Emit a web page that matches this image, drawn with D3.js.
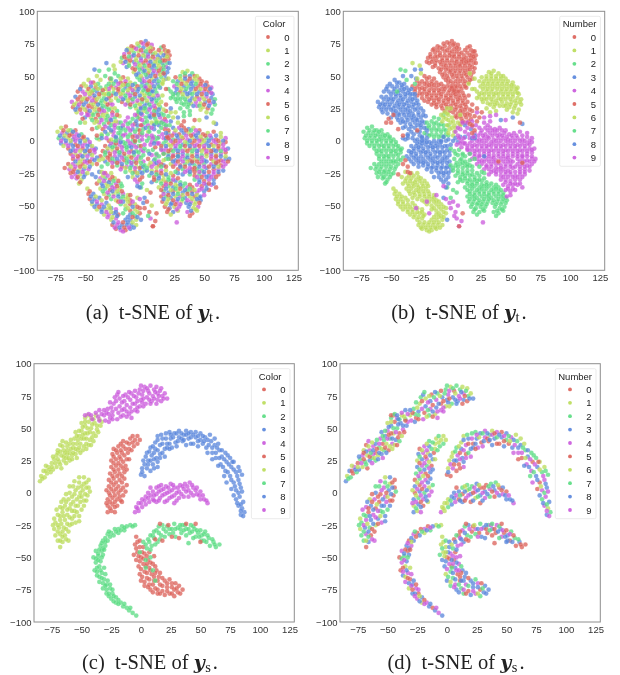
<!DOCTYPE html>
<html><head><meta charset="utf-8">
<script src="https://cdn.jsdelivr.net/npm/d3@7/dist/d3.min.js"></script>
<style>html,body{margin:0;padding:0;background:#fff}svg{display:block;filter:blur(0.3px)}</style>
</head><body><svg id="c" width="620" height="675"></svg>
<script>
const palette = ["#db5f57","#b9db57","#57db80","#5784db","#c957db"];
const legendLabels = ["0","1","2","3","4","5","6","7","8","9"];
const xTicks = [-75,-50,-25,0,25,50,75,100,125];
const yTicks = [-100,-75,-50,-25,0,25,50,75,100];
// top pair: x, y, colour label (a); the array name gives the number label (b)
const tNumber0 = [-3,76,0,1,77,3,3,75,0,6,74,4,-14,71,1,-9,72,0,-5,73,2,-1,72,3,3,71,1,7,71,0,14,72,2,17,70,0,-17,67,4,-13,68,0,-9,68,2,-5,69,1,-1,68,4,3,67,3,7,67,2,11,66,3,14,68,1,18,67,0,21,66,0,-19,64,2,-15,63,0,-11,65,4,-7,64,1,-3,64,3,1,65,2,5,63,1,9,63,4,13,64,3,17,64,1,20,63,0,-18,60,4,-13,60,1,-9,61,3,-5,60,2,-1,60,0,3,60,4,7,59,2,11,60,1,15,60,3,19,60,2,-15,57,3,-10,56,0,-6,57,2,-2,56,4,2,56,1,6,56,3,10,56,2,14,56,0,18,57,4,-9,53,1,-5,52,3,-1,53,2,3,52,0,7,52,3,11,52,4,15,53,2,19,53,3,-6,49,2,-2,48,4,2,49,3,6,48,1,10,48,3,14,49,2,18,48,3,-2,45,3,2,44,2,6,44,4,11,44,3,15,45,1,1,40,3,5,41,0,9,40,2,13,41,3,
-11,73,0,-6,75,1,-1,75,4,2,74,0,5,72,1,12,70,0,16,73,0,19,69,1,-15,70,3,-11,70,1,-7,71,4,-3,70,0,1,69,2,5,69,0,9,68,1,16,66,3,20,69,0,-17,65,0,-13,65,2,-9,66,3,-5,66,0,-1,66,1,3,65,4,7,65,0,11,63,1,15,62,0,19,65,1,-20,61,1,-16,61,3,-12,62,0,-7,62,1,-3,62,4,1,62,0,5,61,3,9,61,1,13,61,2,17,62,0,21,60,3,-13,58,2,-8,59,4,-4,58,1,0,58,2,4,58,0,8,58,3,12,58,1,16,58,2,20,56,3,-8,55,0,-4,55,2,0,54,3,4,54,1,8,54,4,12,54,0,16,55,2,-7,51,3,-3,50,1,1,51,2,5,50,3,9,50,0,13,51,1,17,51,3,-4,47,2,0,46,4,4,46,0,8,46,3,12,46,2,16,47,1,0,42,3,4,42,1,8,42,3,12,42,2,3,38,2,7,38,3];
const tNumber5 = [-22,50,2,-18,49,0,-14,48,1,-28,46,1,-24,46,3,-20,45,0,-16,46,4,-12,45,1,-8,44,2,-32,42,2,-28,42,0,-24,41,4,-20,42,1,-16,41,3,-12,41,0,-8,40,1,-3,42,2,1,41,4,-30,38,1,-26,37,2,-22,38,0,-18,37,1,-14,37,4,-10,37,2,-6,38,3,-2,37,1,2,37,2,6,38,3,10,37,2,-24,33,1,-20,34,4,-16,33,2,-12,33,0,-8,34,3,-4,33,1,0,33,2,4,34,4,8,33,3,12,33,2,15,35,1,-19,30,0,-14,29,2,-10,30,4,-6,29,1,-2,30,2,2,29,3,6,30,4,10,29,2,14,30,1,-12,26,2,-7,25,1,-3,26,4,1,25,2,5,26,3,9,25,0,13,26,2,2,22,2,6,21,4,10,22,3,14,21,2,18,23,0,5,18,3,9,17,2,13,18,4,17,17,0,8,13,2,12,14,1,20,19,2,22,15,3,
-20,48,1,-16,44,0,-26,44,2,-22,44,4,-18,43,1,-14,43,2,-10,43,3,-6,42,0,-30,40,4,-26,40,1,-22,40,0,-18,39,2,-14,39,1,-10,39,4,-5,40,3,-1,39,2,3,39,0,7,35,1,-28,35,0,-24,36,3,-20,36,1,-16,35,2,-12,35,4,-8,36,0,-4,35,3,0,35,1,4,36,2,11,35,4,-22,31,2,-18,32,3,-14,31,1,-10,32,2,-6,31,4,-2,32,0,2,31,1,6,32,3,10,31,2,-16,28,4,-12,28,0,-8,27,2,-4,28,1,0,27,3,4,28,2,8,27,4,12,28,1,-5,23,2,-1,23,1,4,24,4,8,23,2,12,24,3,16,24,1,4,19,3,8,19,2,12,20,3,16,20,2,10,15,1,15,15,4];
const tNumber1 = [32,53,1,36,54,1,40,52,2,26,49,0,30,50,2,34,50,0,38,50,3,42,50,0,46,48,0,24,46,2,28,46,3,32,46,1,36,46,0,40,46,3,44,46,1,48,46,0,52,45,0,25,42,4,29,42,1,33,42,3,37,42,2,41,42,3,45,42,0,49,42,4,53,42,0,56,41,4,22,38,2,26,37,3,30,38,0,34,38,3,38,37,3,42,38,1,46,38,3,50,38,4,54,38,0,57,36,3,24,34,2,28,33,2,32,34,2,36,34,1,40,33,3,44,34,0,48,34,1,52,34,4,56,33,3,59,32,2,27,30,2,31,29,2,35,30,2,39,29,1,43,30,4,47,29,1,51,30,3,55,29,4,59,28,2,30,25,2,36,26,2,44,27,4,49,26,1,53,25,0,57,24,2,38,23,2,52,22,1,56,21,2,
34,52,2,30,48,1,34,48,3,38,48,0,42,48,1,44,50,1,27,44,2,31,44,0,35,44,1,39,44,3,43,44,2,47,44,0,51,43,3,27,40,3,31,40,1,35,40,2,39,40,3,43,40,0,47,40,1,51,40,0,55,40,3,24,36,2,28,36,2,32,36,1,36,36,3,40,36,2,44,36,3,48,36,0,52,36,3,56,37,4,26,32,2,30,32,2,34,32,2,38,31,3,42,32,1,46,32,4,50,32,1,54,31,0,58,30,3,33,28,2,37,28,2,41,27,3,46,27,2,50,28,0,54,27,3,47,24,1,33,22,2];
const tNumber3 = [-47,47,1,-43,45,0,-39,44,2,-53,42,0,-49,42,1,-45,42,3,-41,41,0,-37,41,2,-33,40,1,-56,38,0,-52,38,4,-48,38,1,-44,37,0,-40,38,3,-36,37,2,-32,36,1,-58,34,3,-54,34,0,-50,33,1,-46,34,4,-42,33,0,-38,34,1,-34,33,2,-30,33,0,-61,30,4,-57,29,1,-53,30,0,-49,30,3,-45,29,1,-41,30,0,-37,29,2,-33,30,1,-29,29,4,-60,26,0,-56,26,3,-52,26,1,-48,25,4,-44,26,0,-40,26,1,-36,25,3,-32,26,2,-28,25,1,-57,22,1,-53,21,4,-48,22,0,-44,21,1,-40,22,2,-36,22,4,-32,21,1,-27,22,0,-23,23,2,-50,18,3,-45,18,1,-41,17,0,-37,18,2,-33,18,1,-29,17,4,-25,18,2,-21,19,1,-42,14,1,-38,14,4,-34,13,2,-30,14,0,-26,14,1,-22,14,4,-40,10,2,-35,9,0,-30,10,3,-25,10,4,-36,5,1,-31,5,2,-30,55,2,-25,55,1,-33,50,2,-40,50,1,-29,48,0,
-45,45,4,-41,43,1,-51,44,1,-47,40,0,-43,39,2,-39,40,1,-35,39,0,-54,40,3,-50,36,4,-46,36,1,-42,35,3,-38,36,0,-34,36,1,-30,36,2,-56,32,0,-52,32,1,-48,32,0,-44,31,4,-40,32,1,-36,31,2,-32,32,3,-28,31,1,-59,28,1,-55,28,4,-51,28,3,-47,27,0,-43,28,1,-39,28,3,-35,27,2,-31,28,0,-27,28,4,-58,24,3,-54,24,0,-50,24,1,-46,23,3,-42,24,1,-38,24,0,-34,23,4,-30,24,2,-25,25,1,-47,20,4,-43,20,2,-39,20,0,-35,20,1,-31,19,2,-27,20,4,-23,20,0,-44,16,2,-40,15,1,-36,16,4,-32,16,2,-28,16,3,-24,15,1,-38,11,1,-33,11,4,-28,12,2,-33,7,3,-28,7,1];
const tNumber8 = [-26,4,4,-20,5,2,-30,0,0,-26,-1,2,-22,0,4,-18,-1,2,-14,0,4,-10,0,2,-33,-4,0,-29,-4,3,-25,-4,2,-21,-3,4,-17,-4,2,-13,-4,3,-9,-3,4,-5,-4,2,-35,-8,0,-31,-8,4,-27,-7,1,-23,-8,2,-19,-8,4,-15,-7,2,-11,-8,0,-7,-8,2,-3,-7,4,-37,-12,0,-33,-11,2,-29,-12,0,-25,-12,4,-21,-11,3,-17,-12,2,-13,-12,1,-9,-11,2,-5,-12,4,-1,-11,2,-33,-16,3,-29,-15,0,-25,-16,2,-21,-16,4,-17,-15,0,-13,-16,3,-9,-16,2,-5,-15,1,-1,-16,4,-27,-20,0,-23,-19,2,-19,-20,0,-15,-20,4,-11,-19,3,-7,-20,1,-3,-20,2,-16,-24,2,-12,-23,1,-8,-24,0,-4,-24,3,0,-23,2,-10,-28,1,-6,-27,3,-2,-28,0,-6,-32,4,-2,-33,2,-14,-28,3,
-24,2,2,-28,-2,4,-24,-2,0,-20,-1,3,-16,-2,2,-12,-2,4,-8,-1,2,-31,-6,1,-27,-5,2,-23,-6,0,-19,-5,4,-15,-5,2,-11,-5,3,-7,-5,4,-3,-4,0,-33,-9,2,-29,-10,0,-25,-9,4,-21,-9,2,-17,-10,0,-13,-9,4,-9,-9,3,-5,-9,2,-1,-8,4,-35,-14,1,-31,-13,0,-27,-14,2,-23,-14,3,-19,-13,4,-15,-14,2,-11,-13,0,-7,-14,4,-3,-13,2,-31,-18,2,-27,-17,4,-23,-17,0,-19,-18,3,-15,-17,2,-11,-17,4,-7,-17,0,-3,-17,2,-20,-22,4,-16,-21,1,-12,-21,2,-8,-21,4,-4,-21,0,-1,-20,3,-10,-25,2,-6,-25,1,-2,-25,3,-8,-30,4,-4,-30,0];
const tNumber7 = [-70,10,1,-66,11,0,-62,8,2,-58,8,0,-73,7,1,-69,6,4,-65,6,3,-61,5,0,-57,5,4,-53,5,2,-72,2,2,-68,2,3,-64,2,1,-60,1,3,-56,2,4,-52,2,0,-48,1,3,-70,-2,3,-66,-2,4,-62,-2,3,-58,-3,0,-54,-2,3,-50,-2,4,-46,-3,3,-64,-6,0,-60,-7,3,-56,-6,4,-52,-6,0,-48,-7,3,-44,-6,4,-41,-6,3,-62,-10,0,-58,-10,1,-54,-11,4,-50,-10,1,-46,-10,3,-42,-9,4,-60,-14,0,-56,-14,4,-52,-14,1,-48,-15,3,-44,-14,4,-40,-13,3,-64,-18,0,-60,-18,4,-56,-18,1,-52,-18,0,-48,-17,4,-44,-18,1,-67,-21,0,-63,-22,4,-59,-22,0,-55,-23,1,-51,-22,3,-47,-22,4,-62,-25,0,-58,-26,4,-54,-26,1,-50,-26,3,-57,-29,4,-53,-30,1,-55,-33,1,-54,-32,0,-61,-28,4,
-68,8,0,-64,8,1,-60,7,3,-71,4,3,-67,4,1,-63,4,0,-59,3,4,-55,4,3,-51,3,0,-70,0,4,-66,0,3,-62,0,1,-58,0,4,-54,0,3,-50,0,1,-46,-1,4,-68,-4,1,-64,-4,4,-60,-4,3,-56,-4,0,-52,-4,4,-48,-4,3,-44,-4,1,-62,-8,3,-58,-8,4,-54,-8,1,-50,-8,3,-46,-8,0,-42,-7,4,-60,-12,4,-56,-12,0,-52,-12,3,-48,-12,4,-44,-11,1,-58,-16,3,-54,-16,1,-50,-16,4,-46,-16,0,-42,-15,3,-62,-20,1,-58,-20,4,-54,-20,0,-50,-20,1,-46,-20,3,-60,-24,0,-56,-24,3,-52,-24,4,-48,-25,1,-56,-28,0,-51,-28,3];
const tNumber2 = [3,-14,0,8,-15,3,0,-19,2,4,-19,1,8,-18,4,12,-19,0,16,-19,3,2,-23,3,6,-23,1,10,-24,0,14,-23,4,18,-23,1,4,-27,2,8,-28,0,12,-27,3,16,-27,1,20,-28,2,24,-27,0,6,-32,3,10,-31,2,14,-31,1,18,-32,0,22,-31,2,26,-31,3,30,-32,2,12,-36,1,16,-35,0,20,-35,2,24,-36,3,28,-35,1,32,-35,2,36,-36,4,40,-36,0,16,-39,2,20,-40,3,24,-39,0,28,-39,1,32,-40,3,36,-39,2,40,-39,0,44,-40,4,14,-43,0,18,-43,2,22,-44,3,26,-43,1,30,-43,4,34,-44,3,38,-43,1,42,-43,0,46,-44,3,15,-47,0,19,-47,1,23,-48,3,27,-47,4,31,-47,1,35,-48,3,39,-47,4,43,-47,1,47,-46,3,17,-51,0,21,-52,3,25,-51,1,29,-51,4,37,-51,3,41,-52,1,45,-51,4,19,-55,0,24,-55,3,28,-54,1,36,-55,4,40,-56,0,44,-54,1,22,-57,1,38,-58,0,-3,-36,2,2,-38,1,0,-44,3,5,-40,0,
5,-17,1,10,-17,3,14,-18,0,2,-21,2,6,-20,4,10,-21,1,14,-20,2,18,-20,0,6,-25,3,10,-26,2,14,-25,0,18,-26,3,22,-25,1,8,-30,0,12,-29,3,16,-30,1,20,-30,2,24,-30,4,28,-29,0,14,-33,2,18,-34,4,22,-33,0,26,-34,1,30,-34,3,34,-33,2,38,-34,0,14,-38,0,18,-37,3,22,-38,1,26,-37,2,30,-37,0,34,-38,3,38,-37,2,42,-38,1,16,-41,4,20,-42,0,24,-41,3,28,-41,2,32,-42,1,36,-41,0,40,-41,3,44,-42,1,16,-45,3,20,-45,1,24,-46,0,28,-45,3,32,-45,2,36,-46,4,40,-45,1,44,-45,3,18,-49,1,22,-49,3,26,-49,0,30,-49,4,38,-49,3,42,-49,1,46,-48,0,20,-53,0,27,-53,4,39,-54,3,43,-53,1];
const tNumber4 = [28,14,1,33,15,0,24,10,3,29,10,4,33,10,0,37,9,3,41,10,1,46,8,0,20,6,2,25,6,4,29,5,0,33,6,3,37,6,1,41,5,4,45,6,3,49,5,0,53,6,1,58,7,0,64,6,1,16,2,4,20,2,0,24,1,2,28,2,3,32,2,0,36,1,4,40,2,1,44,2,3,48,1,0,52,2,2,56,2,3,60,1,0,64,3,1,68,2,4,12,-2,4,16,-2,2,20,-3,1,24,-2,0,28,-2,4,32,-3,3,36,-2,2,40,-2,0,44,-3,4,48,-2,1,52,-2,3,56,-3,0,60,-2,4,64,-2,1,68,-1,0,14,-6,2,18,-6,4,22,-7,0,26,-6,3,30,-6,2,34,-7,1,38,-6,0,42,-6,2,46,-7,4,50,-6,0,54,-6,1,58,-7,3,62,-6,0,66,-6,4,70,-6,3,16,-10,0,20,-10,2,24,-11,4,28,-10,0,32,-10,3,36,-11,2,40,-10,1,44,-10,4,48,-11,2,52,-10,0,56,-10,3,60,-11,1,64,-10,4,68,-9,0,18,-14,2,22,-14,0,26,-15,3,30,-14,4,34,-14,2,38,-15,0,42,-14,1,46,-14,2,50,-15,3,56,-14,0,60,-14,4,64,-15,0,68,-14,3,71,-14,3,22,-18,1,26,-18,4,30,-19,0,34,-18,2,38,-18,3,42,-19,2,46,-18,0,50,-18,2,56,-18,4,60,-18,3,64,-19,0,68,-18,4,28,-22,0,32,-22,2,36,-23,4,40,-22,0,44,-22,2,48,-23,2,52,-21,3,58,-22,0,62,-22,4,66,-23,3,32,-26,3,38,-26,2,42,-27,0,46,-26,2,50,-26,4,54,-27,3,58,-26,4,62,-26,0,42,-30,2,46,-30,3,50,-31,0,54,-30,4,58,-30,3,44,-34,4,48,-35,0,52,-34,3,56,-34,4,60,-36,0,46,-38,4,50,-39,3,54,-38,0,47,-43,3,50,-42,4,0,-52,0,4,-55,0,5,-60,4,9,-62,0,7,-66,0,3,-58,2,27,-63,4,
31,12,0,26,8,1,31,8,3,35,8,0,39,8,2,43,8,4,23,4,0,27,4,3,31,3,1,35,4,4,39,4,0,43,4,3,47,3,1,51,4,0,55,4,4,60,4,3,18,0,2,22,0,4,26,0,0,30,0,4,34,-1,1,38,0,3,42,0,0,46,0,4,50,0,1,54,0,3,58,0,4,62,0,0,66,0,3,14,-4,0,18,-4,3,22,-4,1,26,-4,4,30,-4,2,34,-4,0,38,-4,3,42,-4,4,46,-4,0,50,-4,4,54,-4,3,58,-4,1,62,-4,0,66,-3,4,16,-8,4,20,-8,0,24,-8,2,28,-8,3,32,-8,4,36,-8,0,40,-8,2,44,-8,3,48,-8,1,52,-8,4,56,-8,0,60,-8,3,64,-8,2,68,-7,4,20,-12,3,24,-12,0,28,-12,2,32,-12,4,36,-13,3,40,-12,0,44,-12,3,48,-13,4,52,-12,1,56,-12,4,60,-12,0,64,-12,3,68,-12,1,24,-16,3,28,-16,0,32,-16,4,36,-16,1,40,-17,3,44,-16,0,48,-16,4,52,-16,3,58,-16,1,62,-16,0,66,-16,4,70,-16,0,30,-20,3,34,-20,0,38,-21,4,42,-21,0,46,-20,3,50,-20,4,54,-20,0,58,-20,3,62,-20,1,66,-20,4,34,-24,4,38,-24,3,42,-24,0,46,-24,4,50,-24,3,54,-24,0,58,-24,4,62,-24,3,44,-28,4,48,-28,0,52,-28,3,56,-28,4,60,-28,0,46,-32,3,50,-33,4,54,-33,0,58,-33,3,48,-37,4,52,-37,3];
const tNumber6 = [-38,-24,3,-33,-25,0,-28,-25,1,-41,-28,3,-37,-29,4,-33,-29,2,-29,-30,0,-25,-29,1,-40,-33,0,-36,-33,3,-32,-33,1,-28,-34,2,-24,-33,4,-20,-33,2,-48,-37,1,-37,-37,1,-33,-37,2,-29,-38,0,-25,-37,4,-21,-37,1,-47,-41,0,-43,-41,3,-34,-41,1,-30,-42,2,-26,-41,1,-22,-41,2,-18,-41,4,-14,-42,1,-46,-45,0,-42,-45,3,-38,-44,3,-28,-45,2,-24,-46,1,-20,-45,2,-16,-45,1,-12,-46,0,-44,-49,1,-40,-49,3,-36,-49,4,-32,-48,3,-20,-49,2,-16,-50,1,-12,-49,0,-8,-49,1,-40,-53,1,-36,-53,3,-32,-53,1,-28,-52,3,-24,-53,4,-16,-53,2,-12,-54,0,-8,-53,1,-4,-52,0,-34,-57,1,-30,-57,4,-26,-56,3,-22,-57,0,-12,-57,3,-8,-58,2,-4,-56,0,-28,-61,1,-24,-60,4,-16,-61,3,-12,-61,3,-7,-61,1,-27,-65,0,-23,-65,4,-19,-65,3,-15,-65,3,-11,-65,3,-7,-65,1,-24,-68,0,-20,-69,4,-16,-69,0,-12,-68,3,-18,-70,4,
-35,-27,1,-31,-27,4,-27,-28,0,-38,-31,1,-34,-31,4,-30,-32,3,-26,-31,2,-22,-31,0,-35,-35,3,-31,-35,1,-27,-36,4,-23,-35,0,-19,-35,2,-46,-39,0,-35,-39,2,-31,-40,4,-27,-39,3,-23,-39,1,-19,-39,0,-45,-43,3,-41,-43,1,-32,-44,0,-26,-43,4,-22,-43,3,-18,-43,2,-14,-44,1,-44,-47,3,-40,-47,4,-36,-46,1,-22,-47,0,-18,-47,3,-14,-47,1,-10,-47,4,-42,-51,3,-38,-51,0,-34,-51,3,-30,-50,1,-14,-52,1,-10,-51,3,-6,-51,0,-36,-55,3,-32,-55,4,-28,-55,1,-24,-55,3,-10,-56,2,-6,-55,1,-31,-59,4,-27,-59,1,-23,-58,3,-14,-59,3,-10,-59,0,-6,-59,3,-26,-63,3,-22,-63,4,-18,-63,0,-14,-63,3,-10,-63,1,-25,-67,4,-21,-67,3,-17,-67,0,-13,-67,4,-9,-67,3];
const tMixGreen = [-20,14,2,-16,15,4,-12,14,2,-8,13,0,-18,10,2,-14,10,4,-10,9,3,-6,9,2,-16,5,4,-12,5,2,-8,4,4,-4,5,0,-22,6,2,-2,12,4,3,-8,2,6,-11,4,9,-14,2,-42,55,3,-38,54,2,-37,47,1,-30,44,2,-45,38,1,-18,12,4,-14,13,2,-10,12,4,-6,12,3,-16,8,2,-12,8,4,-8,7,2,-4,8,0,-20,10,3,-18,4,4,-14,3,2,-10,3,0,-6,3,2,-2,4,4,0,-6,2,4,-10,3,7,-7,2,10,-11,4,12,-12,2,-14,18,4,-10,17,2,-6,20,0,16,-10,2,12,-16,4,20,-14,2,24,-20,0,28,-25,3,16,-15,1,10,-10,2,26,-24,2];
const tMixYellow = [-5,22,2,-2,20,4,1,18,2,-4,17,0,0,14,2,3,12,4,-1,9,2,3,7,1,-3,25,3,0,25,2,-32,60,3,-25,52,2,-26,58,1,15,44,1,20,40,2,16,52,0,-3,21,3,-6,18,2,-2,16,4,2,15,2,-3,12,0,1,10,3,-2,6,2,2,4,4,6,14,1,-7,15,3,8,20,0,-8,20,4,4,10,2,8,12,3,-28,48,2,20,48,1,18,40,0,22,33,2];
const tMixBlue = [-25,12,4,-20,8,2,-4,0,2,0,-3,4,4,2,2,12,12,3,17,9,0,-4,-36,3,-6,-44,1,-3,-61,3,28,-12,3,42,16,0,60,13,3,52,18,3,-22,10,2,-26,7,4,-20,2,2,-2,1,4,2,0,2,6,-1,4,8,3,2,12,3,4,-8,0,-8,-38,1,-1,-40,2,-18,18,2,-14,20,4,-10,20,2,-24,-24,0,-18,-28,1,-20,-24,3,-14,-32,2,-10,-36,4,-16,-36,2,6,-6,3];
const tMixMagenta = [6,4,4,9,0,2,5,-3,4,8,9,3,12,7,2,14,-7,4,9,-5,0,-20,-47,4,-29,-52,1,-12,-42,0,-18,-56,2,-6,-35,3,38,20,2,46,16,1,4,7,2,7,2,4,11,2,2,11,-2,4,8,-2,3,14,10,2,18,11,4,21,12,2,15,5,4,19,3,0,14,14,2,18,15,4,22,22,1,28,18,3,33,19,2,6,10,4,10,14,2,-1,-48,3,-4,-45,4,2,-47,0,6,-50,1];
const tMixRed = [-52,17,0,-50,14,1,-48,20,4,-28,8,3,-36,-24,1,20,8,0,24,18,1,40,-16,0,60,-17,0,58,14,1,10,-56,0,7,-66,0,-54,14,2,-44,9,0,18,6,3,16,13,2,18,28,0,22,25,3,26,22,1,18,12,2,-40,4,0,-44,-26,3,-38,-15,1,-36,-20,2,-34,-25,4,-40,-18,0];
// bottom pair: x, y, number label (d); the array name gives the colour label (c)
const sYellowBand = [-85,9,3,-84,13,1,-82,17,3,-81,12,2,-79,15,0,-78,20,4,-76,16,2,-75,23,0,-74,18,3,-73,26,2,-71,20,1,-71,29,4,-69,24,2,-67,19,0,-67,29,1,-68,37,0,-65,33,4,-65,25,3,-63,27,2,-62,36,4,-60,31,0,-60,25,2,-60,38,3,-58,29,1,-57,35,2,-56,42,4,-55,30,3,-54,38,0,-53,33,2,-52,44,3,-51,38,1,-50,48,4,-49,33,0,-48,42,2,-47,52,3,-46,38,4,-45,46,1,-44,55,0,-43,41,3,-42,50,2,-42,58,4,-40,46,0,-39,54,3,-38,60,1,-37,49,4,-35,57,2,-45,60,0,-47,58,2,-34,52,3,-50,54,1,-40,40,2,-55,47,3,-62,30,4,-70,33,1,
-83,11,2,-80,17,0,-77,18,3,-75,20,1,-72,23,4,-70,26,0,-68,22,2,-68,32,3,-66,36,1,-65,28,0,-64,31,2,-63,23,4,-62,33,3,-61,27,1,-59,34,0,-59,41,2,-57,31,3,-57,38,4,-55,34,1,-53,41,2,-52,35,0,-51,31,3,-50,42,4,-48,36,1,-47,46,0,-46,42,3,-45,50,2,-44,37,1,-43,47,4,-41,43,0,-41,53,3,-40,57,2,-38,44,1,-37,52,3,-36,47,0,-33,55,4,-47,55,1,-49,51,3,-54,44,2,-80,21,1,-74,28,3,-70,31,0,-66,40,4,-63,39,1,-52,48,2,-49,45,0,-58,26,3,-54,27,4,-46,34,1,-42,37,0];
const sMagentaTop = [-47,60,0,-44,61,2,-41,57,3,-38,62,4,-35,56,0,-35,64,3,-31,60,1,-28,65,2,-30,56,4,-26,58,0,-24,63,3,-23,69,1,-22,74,2,-20,57,4,-19,62,0,-18,67,3,-18,73,1,-15,60,2,-14,65,4,-14,71,3,-13,76,0,-10,61,1,-9,66,3,-9,72,4,-8,77,2,-5,64,4,-5,69,0,-4,74,3,-1,80,2,-1,67,1,0,72,3,1,76,4,3,82,1,4,69,2,5,74,3,6,79,0,8,83,2,9,71,3,10,75,4,11,80,2,13,82,1,14,72,3,14,77,4,17,71,0,18,75,2,17,81,1,20,77,1,22,73,3,-8,58,4,-12,59,0,-27,61,2,
-42,60,3,-36,59,1,-33,61,4,-29,62,0,-27,55,3,-24,60,2,-21,65,4,-21,71,0,-20,76,3,-17,59,1,-16,64,2,-16,70,4,-15,75,1,-12,63,3,-12,68,0,-11,74,2,-8,63,4,-7,69,3,-6,75,1,-3,71,0,-3,66,4,-2,77,2,1,70,3,2,79,4,2,73,0,5,81,2,7,72,3,7,77,1,11,73,4,12,78,3,15,75,0,16,79,2,19,73,3,-24,57,0,-31,64,3,-25,66,1,-26,70,2,-10,78,3,-5,79,0,0,83,2,-3,63,4,2,67,1,8,69,3,13,69,0,-19,78,2];
const sYellowLeft = [-68,-42,0,-70,-37,2,-66,-38,3,-72,-33,2,-68,-32,4,-64,-33,0,-61,-37,4,-73,-28,1,-69,-27,3,-65,-27,2,-61,-30,0,-72,-23,2,-68,-21,4,-64,-21,3,-60,-25,1,-70,-17,2,-66,-15,0,-62,-17,4,-58,-20,3,-55,-23,4,-68,-11,4,-64,-10,3,-60,-12,0,-56,-14,2,-52,-18,3,-65,-5,1,-61,-5,4,-57,-7,0,-53,-10,3,-50,-13,2,-60,0,3,-56,-1,0,-52,-3,4,-48,-6,0,-57,5,2,-53,4,4,-49,2,3,-45,-2,0,-52,8,2,-48,7,1,-44,4,0,-48,12,3,-44,10,0,
-68,-37,1,-66,-34,2,-63,-36,4,-70,-30,2,-66,-30,3,-63,-28,0,-70,-25,4,-67,-24,1,-62,-24,3,-58,-24,0,-68,-18,2,-65,-18,3,-60,-19,4,-56,-18,1,-66,-12,0,-62,-13,3,-58,-14,4,-54,-15,2,-63,-7,0,-59,-9,1,-55,-10,3,-51,-7,4,-58,-3,0,-54,-5,3,-50,-3,1,-55,2,4,-51,0,0,-47,-1,3,-50,5,2,-46,4,3,-46,8,0,-74,-25,2,-73,-20,1,-71,-13,4,-67,-7,3,-63,-1,0,-60,5,2,-56,9,4,-52,12,1,-48,-10,3,-46,-6,0,-43,1,2,-52,-22,3];
const sRedMid = [-28,-15,3,-25,-14,1,-22,-15,4,-28,-10,1,-24,-9,3,-20,-10,0,-28,-5,3,-24,-4,2,-20,-5,4,-16,-7,1,-27,0,0,-23,1,3,-19,0,2,-15,-2,4,-27,5,3,-23,6,0,-19,5,4,-15,4,1,-27,10,0,-23,11,2,-18,10,4,-14,11,3,-26,15,2,-22,16,4,-18,15,0,-14,16,3,-25,20,3,-21,21,4,-17,21,2,-13,21,0,-25,25,1,-21,26,3,-17,26,4,-12,26,3,-24,30,3,-20,31,4,-16,31,1,-11,31,0,-23,34,0,-19,36,4,-15,36,3,-10,34,1,-15,40,2,-10,38,1,-6,36,2,-9,42,1,-5,41,1,-3,44,1,-3,38,2,-1,41,1,
-26,-12,2,-22,-11,3,-26,-7,4,-22,-7,0,-26,-2,1,-22,-2,4,-18,-3,3,-25,3,4,-21,3,0,-17,2,3,-25,8,1,-21,8,4,-16,8,3,-24,13,4,-20,13,1,-16,13,0,-23,18,2,-19,18,3,-15,19,4,-23,23,0,-19,23,4,-15,24,1,-23,28,2,-18,28,0,-14,29,3,-21,33,1,-17,33,4,-13,34,2,-17,38,1,-12,39,2,-7,39,1,-7,44,2,-12,6,2,-13,1,4,-17,-6,3,-29,2,1,-29,-8,4,-12,18,3,-10,26,1,-8,33,2];
const sBlueArc = [0,14,0,3,13,0,1,19,1,5,19,4,8,17,0,2,25,1,6,25,3,10,22,0,14,20,4,5,31,1,9,29,4,13,27,3,8,35,2,12,34,3,16,30,0,20,28,4,12,39,1,16,37,4,20,34,3,14,44,1,18,42,3,22,38,0,26,35,4,21,46,2,25,42,3,29,39,0,24,47,2,28,46,3,32,43,4,35,40,0,32,48,4,36,45,2,40,42,3,44,38,0,38,48,1,42,47,4,46,43,3,50,41,2,46,47,0,50,46,3,54,43,4,52,38,0,55,35,3,59,40,2,58,45,1,62,37,3,60,31,4,65,38,1,66,33,2,63,27,0,68,28,3,71,31,2,67,22,4,72,24,0,75,27,2,71,17,4,76,20,3,78,24,1,75,13,3,80,16,2,82,20,1,78,8,0,82,10,4,85,14,2,80,2,4,84,4,3,80,-5,2,83,-3,4,86,-7,3,82,-10,4,85,-12,1,87,-15,2,84,-17,3,86,-18,4,
1,16,3,3,22,4,6,22,0,4,28,1,8,25,3,11,26,4,7,32,2,11,31,0,14,24,3,10,36,1,14,33,4,18,31,2,14,41,3,18,38,0,22,35,3,17,45,2,21,42,4,24,38,3,27,43,1,31,40,3,25,45,4,30,46,2,34,46,3,34,42,0,38,45,4,42,43,2,36,41,3,40,46,0,44,45,3,48,44,4,48,40,0,52,44,2,56,41,3,53,40,1,57,37,4,62,42,1,60,35,3,64,35,2,63,31,4,68,33,3,66,27,1,70,26,4,73,29,2,69,20,3,74,22,4,77,24,0,73,16,2,78,18,1,76,10,3,81,13,4,83,17,2,79,5,1,83,7,3,82,0,2,85,1,4,81,-8,3,84,-9,2,84,-14,4,24,34,0,30,36,4,38,37,3,42,38,0,48,36,3,56,31,4,60,26,0,65,21,3,70,13,2,72,8,4,76,3,0,78,-2,3,16,27,4,11,19,0];
const sMagentaLow = [-5,-15,4,-4,-11,1,-2,-14,1,-2,-8,1,1,-11,2,1,-5,1,4,-9,3,4,-3,3,7,-7,4,6,0,3,10,-5,0,10,1,3,13,-7,3,13,-1,0,13,4,2,16,-4,4,17,2,1,17,6,2,20,-7,0,20,-1,3,21,5,2,24,-4,1,24,1,4,25,7,3,28,-8,0,28,-2,3,28,4,0,32,-4,4,32,1,3,33,6,0,36,-3,2,36,3,4,37,7,2,40,-3,0,40,2,3,41,8,2,44,-2,3,44,4,0,47,-1,4,47,4,3,50,-5,3,50,1,0,53,-5,3,56,-8,4,
-3,-12,1,0,-8,1,3,-6,2,6,-4,3,8,-2,4,8,4,0,11,-2,2,11,-6,3,15,1,3,15,-6,0,15,5,1,18,-2,4,19,3,2,22,-6,3,22,0,0,23,4,4,26,-3,2,26,2,3,27,6,1,30,-6,3,30,0,4,31,4,0,34,-1,3,35,5,2,38,1,0,39,5,3,42,0,4,43,6,1,46,2,0,49,-2,3,52,-2,4,55,-6,3];
const sGreenArc = [-5,-25,1,-9,-25,1,-12,-26,3,-16,-26,0,-14,-29,2,-19,-28,4,-22,-28,0,-19,-31,1,-25,-31,0,-23,-33,3,-28,-32,4,-28,-37,3,-32,-37,0,-30,-41,4,-34,-41,3,-33,-45,0,-38,-45,4,-36,-49,2,-40,-50,0,-34,-53,3,-38,-54,4,-35,-57,1,-39,-60,0,-33,-62,4,-37,-64,3,-31,-67,0,-35,-69,4,-29,-71,3,-32,-74,1,-26,-74,4,-29,-78,3,-24,-78,0,-25,-82,4,-21,-81,3,-21,-85,1,-17,-85,4,-15,-88,3,-12,-89,0,-10,-91,3,-7,-93,4,-4,-95,3,
-7,-26,2,-14,-27,4,-17,-29,3,-21,-30,2,-26,-34,0,-30,-35,3,-30,-38,1,-33,-39,4,-32,-43,3,-35,-44,0,-36,-47,3,-38,-51,2,-36,-52,4,-37,-58,0,-34,-60,3,-37,-61,4,-35,-65,1,-33,-66,0,-32,-70,3,-30,-72,4,-29,-75,0,-27,-78,3,-27,-80,4,-23,-80,1,-23,-84,3,-19,-83,0,-19,-86,4,-14,-86,3,-9,-89,4,-27,-30,2,-31,-44,0,-32,-48,3,-33,-50,2,-31,-58,1,-30,-63,4,-28,-68,3,-26,-71,0,-24,-75,4];
const sRedArc = [-5,-40,1,-3,-46,1,-6,-48,2,-1,-42,1,-4,-52,3,0,-50,0,3,-47,4,-2,-57,3,2,-55,4,6,-52,0,-1,-63,1,3,-61,2,7,-58,3,10,-55,4,0,-68,3,5,-66,2,9,-63,0,13,-60,3,3,-72,2,7,-71,4,11,-68,0,15,-65,3,8,-75,3,12,-74,2,16,-71,4,20,-68,3,14,-78,2,18,-76,0,22,-73,3,26,-70,4,20,-79,3,24,-78,4,28,-75,0,32,-72,3,28,-80,2,31,-77,3,35,-75,3,2,-42,3,7,-46,0,11,-49,4,
-4,-43,2,-2,-49,1,-1,-53,3,2,-51,0,5,-49,4,0,-59,4,4,-57,0,8,-54,3,1,-65,2,5,-62,3,8,-60,4,12,-57,2,3,-69,1,7,-67,3,11,-65,0,6,-73,4,10,-71,2,14,-68,3,18,-66,0,10,-77,3,14,-75,4,18,-72,2,22,-70,3,16,-78,0,22,-76,4,26,-73,3,26,-78,1,30,-74,2,33,-78,3,-3,-38,1,-1,-37,2,1,-46,3,5,-55,4,12,-62,0,16,-62,3,24,-67,2,29,-70,0];
const sGreenLow = [2,-38,3,6,-36,0,9,-41,4,5,-43,2,10,-33,0,14,-38,3,13,-29,4,17,-33,2,18,-25,3,21,-30,0,24,-28,4,28,-24,2,27,-31,0,31,-27,3,35,-25,2,34,-31,0,38,-28,3,42,-25,4,41,-31,0,45,-28,3,48,-31,0,46,-34,4,51,-33,3,54,-30,2,53,-37,0,57,-35,2,61,-38,3,58,-41,0,63,-42,0,66,-40,0,-1,-46,1,4,-52,3,8,-50,4,4,-58,2,10,-60,4,12,-68,3,40,-39,0,
4,-40,1,7,-38,3,8,-33,2,11,-35,4,11,-30,0,15,-31,3,15,-26,2,19,-28,4,22,-26,0,26,-28,3,24,-32,2,29,-28,4,33,-28,0,33,-25,3,37,-25,4,36,-29,2,40,-28,0,43,-30,3,47,-29,4,44,-26,2,50,-29,0,49,-34,3,53,-32,4,56,-33,0,55,-38,3,60,-36,2,62,-40,0,8,-44,3,12,-40,4,16,-36,0,20,-34,2,29,-34,3,38,-33,0,44,-35,2,51,-37,3];
const sRedLow = [16,-24,0,23,-25,1,12,-36,3,18,-37,0,26,-34,4,32,-35,3,38,-24,2,46,-24,0,50,-38,3,-4,-34,1];

const rows = [
 {x:37.3,X:298.3,y:11.3,Y:270.3,title:"Color",capX:153,capY:319,cap:"(a)",sub:"t",top:true,byColor:true},
 {x:343.3,X:604.7,y:11.3,Y:270.3,title:"Number",capX:459,capY:319,cap:"(b)",sub:"t",top:true,byColor:false},
 {x:34,X:294.3,y:363.7,Y:622,title:"Color",capX:150,capY:669,cap:"(c)",sub:"s",top:false,byColor:true},
 {x:340,X:600.3,y:363.7,Y:622,title:"Number",capX:456,capY:669,cap:"(d)",sub:"s",top:false,byColor:false}
];

function triples(arr, fixed){
  const out=[];
  for(let i=0;i<arr.length;i+=3) out.push({x:arr[i],y:arr[i+1],own:arr[i+2],fixed});
  return out;
}
const topPoints = [].concat(
  triples(tNumber0,0),triples(tNumber5,0),triples(tNumber1,1),triples(tNumber3,3),triples(tNumber8,3),
  triples(tNumber7,2),triples(tNumber2,2),triples(tNumber4,4),triples(tNumber6,1),
  triples(tMixGreen,2),triples(tMixYellow,1),triples(tMixBlue,3),triples(tMixMagenta,4),triples(tMixRed,0));
const bottomPoints = [].concat(
  triples(sYellowBand,1),triples(sMagentaTop,4),triples(sYellowLeft,1),triples(sRedMid,0),triples(sBlueArc,3),
  triples(sMagentaLow,4),triples(sGreenArc,2),triples(sRedArc,0),triples(sGreenLow,2),triples(sRedLow,0));

const svg = d3.select("#c");
const sans = "'Liberation Sans',Arial,sans-serif";
const hue = d3.scaleOrdinal([0,1,2,3,4],palette);

rows.forEach(p=>{
  const xS = d3.scaleLinear().domain([-90,129]).range([p.x,p.X]);
  const yS = d3.scaleLinear().domain([-100,100]).range([p.Y,p.y]);
  const g = svg.append("g");
  const pts = p.top ? topPoints : bottomPoints;
  const colourOf = d => p.top
      ? (p.byColor ? hue(d.own) : hue(d.fixed))
      : (p.byColor ? hue(d.fixed) : hue(d.own));
  g.append("g").selectAll("circle").data(pts).join("circle")
    .attr("cx",d=>xS(d.x)).attr("cy",d=>yS(d.y)).attr("r",2.35)
    .attr("fill",colourOf).attr("fill-opacity",0.75)
    .attr("stroke","#fff").attr("stroke-opacity",0.4).attr("stroke-width",0.25);

  const ax = g.append("g").attr("transform",`translate(0,${p.Y})`)
     .call(d3.axisBottom(xS).tickValues(xTicks).tickSize(0).tickPadding(4).tickFormat(d3.format("")));
  const ay = g.append("g").attr("transform",`translate(${p.x},0)`)
     .call(d3.axisLeft(yS).tickValues(yTicks).tickSize(0).tickPadding(2.5).tickFormat(d3.format("")));
  [ax,ay].forEach(a=>{a.select(".domain").remove();
    a.selectAll("text").attr("font-family",sans).attr("font-size",9.5).attr("fill","#333");});
  g.append("rect").attr("x",p.x).attr("y",p.y).attr("width",p.X-p.x).attr("height",p.Y-p.y)
    .attr("fill","none").attr("stroke","#8e8e8e").attr("stroke-width",1);

  // legend
  const lw = p.title==="Number"?40.7:38.6, lx=p.X-4.3-lw, ly=p.y+5;
  const lg = g.append("g");
  lg.append("rect").attr("x",lx).attr("y",ly).attr("width",lw).attr("height",150).attr("rx",1.5)
    .attr("fill","#fff").attr("fill-opacity",.85).attr("stroke","#e2e2e2").attr("stroke-width",.7);
  lg.append("text").attr("x",lx+lw/2-(p.title==="Number"?0.5:0.6)).attr("y",ly+10.8).attr("text-anchor","middle")
    .attr("font-family",sans).attr("font-size",9.5).attr("fill","#222").text(p.title);
  const rowS = d3.scalePoint().domain(legendLabels).range([ly+20.7,ly+141.3]);
  const mx = lx+lw-26, tx = lx+lw-7;
  lg.selectAll("circle").data(legendLabels).join("circle")
    .attr("cx",mx).attr("cy",d=>rowS(d)).attr("r",1.9)
    .attr("fill",(d,i)=>palette[i%5]).attr("fill-opacity",.9);
  lg.selectAll("text.l").data(legendLabels).join("text").attr("class","l")
    .attr("x",tx).attr("y",d=>rowS(d)+3.5).attr("text-anchor","middle")
    .attr("font-family",sans).attr("font-size",9.5).attr("fill","#222").text(d=>d);

  // caption
  const cap = svg.append("text").attr("x",p.capX).attr("y",p.capY).attr("text-anchor","middle")
    .attr("font-family","'Liberation Serif','Times New Roman',serif").attr("font-size",20.5).attr("fill","#222");
  cap.append("tspan").text(p.cap+"\u2002t-SNE of ");
  cap.append("tspan").attr("font-family","'DejaVu Serif',serif").attr("font-weight","bold").attr("font-style","italic").attr("font-size",19).text("y");
  cap.append("tspan").attr("font-size",14.5).attr("dy",3).attr("dx",0.5).text(p.sub);
  cap.append("tspan").attr("dy",-3).attr("dx",2).text(".");
});
</script></body></html>
